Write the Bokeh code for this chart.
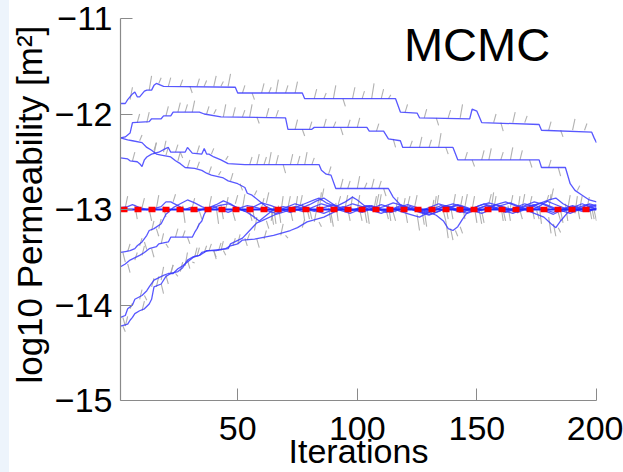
import numpy as np
from bokeh.plotting import figure
from bokeh.models import FixedTicker, Label, Range1d
from bokeh.embed import file_html
from bokeh.resources import INLINE

# ---------------- data ----------------
x_ticks = [50, 100, 150, 200]
y_ticks = [-15, -14, -13, -12, -11]
y_tick_labels = ["\u221215", "\u221214", "\u221213", "\u221212", "\u221211"]
true_value = -13.0

# chain A (top)
a_it = [1, 3, 4, 6, 7, 8, 9, 11, 12, 14, 15, 16, 19, 49, 50, 77, 78, 116, 118, 125, 126, 147, 148, 150, 152, 176, 177, 198, 199, 200]
a_v = [-11.89, -11.89, -11.85, -11.79, -11.77, -11.82, -11.82, -11.76, -11.75, -11.75, -11.70, -11.68, -11.71, -11.72, -11.78, -11.78, -11.84, -11.84, -11.98, -11.99, -12.04, -12.05, -11.95, -11.97, -12.09, -12.11, -12.17, -12.19, -12.25, -12.30]

# chain B
b_it = [1, 3, 5, 6, 13, 14, 18, 19, 22, 23, 34, 36, 43, 70, 71, 81, 82, 104, 105, 111, 113, 118, 119, 140, 142, 176, 177, 187, 189, 191, 194, 197, 200]
b_v = [-12.25, -12.24, -12.20, -12.09, -12.08, -12.05, -12.05, -12.02, -12.02, -11.98, -11.98, -12.00, -12.03, -12.04, -12.16, -12.16, -12.14, -12.14, -12.18, -12.18, -12.26, -12.28, -12.35, -12.35, -12.48, -12.48, -12.56, -12.56, -12.73, -12.80, -12.85, -12.90, -12.92]

# chain C
c_it = [1, 4, 6, 10, 12, 14, 16, 18, 22, 24, 26, 28, 32, 35, 37, 39, 44, 46, 50, 53, 54, 56, 59, 62,
        66, 70, 74, 78, 82, 86, 90, 94, 98, 102, 106, 110, 114, 118, 122, 126, 129, 133, 137, 141, 145, 149, 153, 157, 161, 165, 169, 173, 177, 181, 185, 189, 193, 197, 200]
c_v = [-12.25, -12.27, -12.28, -12.30, -12.35, -12.38, -12.42, -12.43, -12.45, -12.49, -12.52, -12.56, -12.57, -12.59, -12.62, -12.64, -12.67, -12.70, -12.73, -12.77, -12.83, -12.85, -12.91, -12.97,
       -13.02, -12.98, -12.94, -12.97, -13.01, -13.04, -13.00, -12.97, -13.00, -13.03, -12.99, -12.95, -12.98, -13.02, -13.05, -13.08, -13.04, -13.00, -12.96, -12.99, -13.02, -12.98, -12.94, -12.97, -13.01, -13.04, -13.00, -12.96, -12.93, -12.97, -13.01, -13.04, -13.00, -12.97, -12.99]

# chain D
d_it = [1, 4, 5, 8, 9, 10, 11, 12, 14, 17, 20, 21, 22, 28, 29, 31, 35, 36, 37, 38, 40, 43, 46, 53, 84, 85, 87, 89, 91, 113, 115, 118,
        122, 126, 130, 134, 138, 142, 146, 150, 154, 158, 162, 166, 170, 174, 178, 182, 186, 190, 194, 197, 200]
d_v = [-12.46, -12.47, -12.49, -12.50, -12.52, -12.55, -12.48, -12.45, -12.42, -12.40, -12.36, -12.35, -12.40, -12.40, -12.35, -12.41, -12.42, -12.36, -12.42, -12.42, -12.45, -12.48, -12.52, -12.53, -12.53, -12.59, -12.63, -12.64, -12.78, -12.78, -12.87, -12.95,
       -12.99, -13.02, -12.98, -12.94, -12.97, -13.01, -13.04, -13.00, -12.96, -12.99, -13.03, -13.00, -12.96, -12.92, -12.95, -12.99, -13.02, -12.98, -12.94, -12.97, -13.00]

# chain E (starts near the true value)
e_it = [1, 4, 6, 9, 12, 15, 18, 20, 22, 25, 28, 30, 33, 36, 40, 43, 46, 50, 54, 58, 62, 66, 70, 74, 78, 82, 86, 90, 94, 98, 102, 106, 110, 114, 118, 122, 126, 130, 134, 138, 142, 146, 150, 154, 158, 162, 166, 170, 174, 178, 182, 186, 190, 194, 197, 200]
e_v = [-12.98, -12.97, -12.95, -12.98, -13.00, -12.99, -12.97, -12.92, -12.92, -12.96, -13.00, -12.98, -13.02, -12.99, -12.97, -13.00, -13.03, -12.99, -12.96, -12.98, -13.01, -13.04, -13.00, -12.97, -12.99, -13.02, -12.98, -12.95, -12.99, -13.01, -12.98, -12.96, -13.00, -13.03, -13.00, -12.97, -13.01, -13.05, -13.02, -12.98, -12.96, -13.00, -13.02, -12.99, -12.95, -12.98, -13.01, -12.97, -12.95, -13.00, -13.03, -12.99, -12.96, -12.99, -13.01, -12.99]

# chain F
f_it = [1, 3, 5, 7, 8, 10, 12, 13, 15, 18, 19, 20, 21, 23,
        26, 29, 32, 35, 38, 42, 46, 50, 54, 57, 59, 62, 65, 69, 73, 77, 81, 85, 89, 93, 97, 101, 105, 109, 113, 117, 121, 125, 129, 133, 136, 138, 140, 142, 144, 146, 150, 154, 158, 162, 166, 170, 174, 178, 182, 186, 190, 194, 197, 200]
f_v = [-13.45, -13.44, -13.43, -13.41, -13.38, -13.34, -13.27, -13.22, -13.20, -13.15, -13.10, -13.05, -13.03, -12.98,
       -12.94, -12.90, -12.93, -12.97, -13.00, -12.96, -12.94, -12.98, -13.03, -13.08, -13.12, -13.06, -13.00, -12.97, -12.99, -13.02, -12.98, -12.94, -12.97, -13.01, -13.04, -13.00, -12.96, -12.99, -13.02, -12.98, -12.95, -12.98, -13.02, -13.06, -13.12, -13.20, -13.22, -13.18, -13.10, -13.03, -12.99, -12.96, -12.99, -13.02, -12.98, -12.94, -12.97, -13.01, -13.05, -13.00, -12.97, -13.00, -13.02, -12.98]

# chain G
g_it = [1, 3, 5, 9, 11, 13, 16, 17, 21, 22, 26, 31, 32, 33, 34, 35, 36, 37, 38,
        41, 44, 47, 50, 53, 56, 60, 64, 68, 72, 76, 80, 83, 86, 89, 92, 96, 100, 104, 108, 112, 116, 120, 124, 128, 132, 136, 140, 144, 148, 152, 156, 160, 164, 168, 172, 176, 180, 183, 186, 190, 194, 197, 200]
g_v = [-13.60, -13.57, -13.53, -13.48, -13.45, -13.41, -13.39, -13.36, -13.34, -13.29, -13.29, -13.29, -13.24, -13.20, -13.15, -13.12, -13.05, -13.01, -12.98,
       -12.95, -12.91, -12.94, -12.99, -13.02, -12.98, -12.93, -12.96, -13.00, -13.03, -12.99, -12.95, -12.91, -12.88, -12.93, -12.98, -13.02, -12.99, -12.96, -12.99, -13.03, -13.00, -12.97, -13.00, -13.04, -13.01, -12.97, -12.94, -12.97, -13.01, -13.04, -13.00, -12.96, -12.93, -12.97, -13.01, -12.97, -12.90, -12.88, -12.94, -12.99, -13.02, -12.98, -12.95]

# chain H
h_it = [1, 3, 4, 6, 7, 10, 12, 13, 15, 19, 21, 23, 25, 27, 29, 32, 34, 36, 37, 41, 45, 47, 50, 52, 57, 65, 72, 75, 79, 86, 90,
        94, 98, 102, 106, 110, 114, 118, 122, 126, 130, 134, 138, 142, 146, 150, 154, 158, 162, 166, 170, 174, 178, 181, 183, 185, 188, 192, 196, 200]
h_v = [-14.13, -14.11, -14.04, -14.00, -13.94, -13.90, -13.85, -13.81, -13.74, -13.69, -13.67, -13.67, -13.62, -13.59, -13.55, -13.49, -13.48, -13.45, -13.43, -13.43, -13.41, -13.38, -13.36, -13.32, -13.31, -13.27, -13.22, -13.19, -13.13, -13.08, -13.03,
       -12.98, -12.94, -12.97, -13.01, -13.04, -13.00, -12.96, -12.99, -13.03, -13.06, -13.02, -12.98, -12.95, -12.98, -13.02, -12.99, -12.95, -12.92, -12.96, -13.00, -13.04, -13.08, -13.15, -13.19, -13.12, -13.03, -12.98, -12.95, -12.97]

# chain I
i_it = [1, 4, 5, 6, 7, 9, 11, 13, 14, 15, 18, 20, 22, 25, 27, 28, 29, 31, 34, 35, 38, 46, 47, 52, 55, 58, 60, 66, 70,
        74, 78, 82, 84, 87, 91, 95, 98, 100, 103, 107, 111, 115, 119, 123, 127, 131, 135, 139, 143, 147, 151, 155, 159, 163, 167, 171, 175, 179, 182, 186, 190, 194, 197, 200]
i_v = [-14.22, -14.20, -14.16, -14.13, -14.09, -14.06, -14.04, -13.99, -13.94, -13.81, -13.78, -13.70, -13.67, -13.65, -13.61, -13.57, -13.53, -13.50, -13.48, -13.45, -13.43, -13.41, -13.36, -13.30, -13.22, -13.14, -13.12, -13.05, -13.02,
       -12.98, -12.94, -12.90, -12.88, -12.93, -12.97, -12.92, -12.87, -12.90, -12.96, -13.00, -12.97, -12.93, -12.96, -13.00, -13.03, -13.00, -12.96, -12.99, -13.03, -13.00, -12.96, -12.93, -12.96, -13.00, -13.03, -12.99, -12.95, -12.91, -12.94, -12.98, -13.02, -12.98, -12.94, -12.96]

# rejected proposals (grey): iteration, proposed value
a_sp_it = [5, 13, 17, 21, 26, 30, 33, 36, 40, 43, 46, 52, 56, 60, 63, 66, 70, 74, 82, 86, 90, 94, 98, 102, 106, 110, 113, 120, 128, 133, 138, 143, 157, 160, 165, 170, 180, 185, 190, 195]
a_sp_v = [-11.72, -11.60, -11.62, -11.62, -11.64, -11.78, -11.63, -11.65, -11.60, -11.66, -11.58, -11.70, -11.85, -11.68, -11.72, -11.64, -11.70, -11.66, -11.74, -11.78, -11.70, -11.92, -11.72, -11.76, -11.68, -11.74, -11.80, -11.90, -11.95, -12.12, -11.96, -11.90, -12.00, -12.18, -11.98, -12.02, -12.08, -12.24, -12.05, -12.10]
b_sp_it = [8, 12, 20, 25, 28, 31, 37, 40, 44, 48, 52, 55, 58, 62, 66, 74, 77, 80, 86, 90, 93, 96, 100, 108, 115, 122, 126, 130, 134, 137, 145, 148, 152, 155, 160, 164, 168, 172, 180, 184, 192]
b_sp_v = [-12.00, -11.98, -11.92, -11.88, -11.90, -11.86, -11.92, -11.95, -11.90, -11.93, -11.96, -11.90, -12.10, -11.94, -11.96, -12.06, -12.23, -12.08, -12.05, -12.08, -12.22, -12.06, -12.04, -12.10, -12.35, -12.28, -12.24, -12.27, -12.20, -12.42, -12.40, -12.55, -12.38, -12.36, -12.40, -12.35, -12.38, -12.56, -12.48, -12.65, -12.75]
c_sp_it = [9, 15, 20, 25, 29, 33, 38, 42, 47, 51, 57, 65, 71, 77, 83, 89, 95, 101, 107, 113, 119, 125, 131, 137, 143, 149, 155, 161, 167, 173, 179, 185, 191, 197]
c_sp_v = [-12.22, -12.30, -12.35, -12.40, -12.48, -12.50, -12.55, -12.60, -12.62, -12.80, -12.80, -13.15, -12.86, -13.12, -12.88, -13.18, -12.85, -13.12, -12.86, -13.12, -12.88, -13.22, -12.90, -13.10, -12.86, -13.14, -12.84, -13.12, -12.86, -13.10, -12.85, -13.14, -12.86, -13.10]
d_sp_it = [6, 15, 19, 24, 26, 33, 39, 45, 55, 58, 61, 63, 66, 69, 72, 75, 78, 81, 88, 93, 96, 100, 103, 106, 109, 111]
d_sp_v = [-12.40, -12.30, -12.28, -12.32, -12.46, -12.33, -12.36, -12.44, -12.45, -12.42, -12.45, -12.40, -12.43, -12.62, -12.42, -12.44, -12.40, -12.46, -12.55, -12.68, -12.70, -12.65, -12.72, -12.68, -12.70, -12.86]
e_sp_it = [3, 7, 10, 13, 16, 19, 23, 27, 31, 34, 38, 41, 45, 48, 52, 56, 60, 64, 68, 72, 76, 80, 84, 88, 92, 96, 100, 104, 108, 112, 116, 120, 124, 128, 132, 136, 140, 144, 148, 152, 156, 160, 164, 168, 172, 176, 180, 184, 188, 192, 196, 199]
e_sp_v = [-12.86, -13.10, -12.88, -13.12, -12.85, -13.08, -12.84, -13.14, -12.88, -13.10, -12.86, -13.15, -12.87, -13.12, -12.84, -13.10, -12.88, -13.16, -12.86, -13.12, -12.85, -13.10, -12.82, -13.14, -12.86, -13.12, -12.85, -13.15, -12.84, -13.10, -12.87, -13.14, -12.85, -13.18, -12.86, -13.12, -12.84, -13.10, -12.86, -13.14, -12.82, -13.12, -12.85, -13.10, -12.86, -13.15, -12.84, -13.12, -12.85, -13.10, -12.87, -13.12]
f_sp_it = [2, 4, 9, 11, 14, 16, 17, 137, 139, 141, 143]
f_sp_v = [-13.55, -13.36, -13.30, -13.42, -13.12, -13.28, -13.10, -13.30, -13.32, -13.28, -13.25]
g_sp_it = [4, 7, 10, 14, 18, 20, 24, 27, 29, 33, 43, 49, 55, 62, 67, 74, 79, 85, 91, 97, 103, 109, 115, 121, 127, 133, 139, 145, 151, 157, 163, 169, 175, 181, 187, 193, 198]
g_sp_v = [-13.66, -13.45, -13.38, -13.50, -13.25, -13.40, -13.20, -13.22, -13.36, -13.14, -13.10, -12.85, -13.12, -12.82, -13.14, -12.86, -13.10, -12.78, -13.12, -12.86, -13.14, -12.84, -13.12, -12.86, -13.16, -12.85, -13.10, -12.84, -13.15, -12.86, -13.12, -12.84, -13.10, -12.78, -13.12, -12.86, -13.10]
h_sp_it = [2, 5, 9, 11, 14, 18, 20, 22, 24, 28, 31, 33, 38, 40, 43, 48, 54, 58, 61, 68, 70, 77, 82, 84, 180, 182, 184]
h_sp_v = [-14.22, -13.98, -13.84, -13.95, -13.72, -13.60, -13.78, -13.58, -13.70, -13.45, -13.56, -13.40, -13.36, -13.50, -13.33, -13.30, -13.25, -13.40, -13.22, -13.15, -13.30, -13.10, -13.00, -13.18, -13.25, -13.28, -13.24]
i_sp_it = [2, 3, 10, 16, 18, 22, 26, 29, 32, 36, 40, 42, 44, 50, 53, 57, 62, 64]
i_sp_v = [-14.28, -14.12, -13.96, -13.70, -13.88, -13.58, -13.55, -13.62, -13.40, -13.38, -13.52, -13.35, -13.48, -13.26, -13.38, -13.08, -13.20, -12.98]

chains = [(a_it, a_v), (b_it, b_v), (c_it, c_v), (d_it, d_v), (e_it, e_v),
          (f_it, f_v), (g_it, g_v), (h_it, h_v), (i_it, i_v)]
spikes = [(a_sp_it, a_sp_v), (b_sp_it, b_sp_v), (c_sp_it, c_sp_v), (d_sp_it, d_sp_v), (e_sp_it, e_sp_v),
          (f_sp_it, f_sp_v), (g_sp_it, g_sp_v), (h_sp_it, h_sp_v), (i_sp_it, i_sp_v)]

# ---------------- figure ----------------
FONT = "Liberation Sans"
p = figure(width=623, height=472, output_backend="svg", toolbar_location=None,
           x_range=Range1d(1, 200), y_range=Range1d(-15, -11),
           min_border_left=120, min_border_right=27, min_border_top=18, min_border_bottom=72)
p.outline_line_color = None
p.xgrid.visible = False
p.ygrid.visible = False
p.background_fill_color = "white"
p.border_fill_color = None
p.styles = {"background": "linear-gradient(90deg, #edf4fc 0px, #edf4fc 9px, #ffffff 9px, #ffffff 100%)"}

# grey rejected proposals
x0s, y0s, x1s, y1s = [], [], [], []
for (cit, cv), (sit, sv) in zip(chains, spikes):
    cit_a = np.array(cit)
    for it, pv in zip(sit, sv):
        k = int(np.searchsorted(cit_a, it, side="right")) - 1
        base = cv[max(k, 0)]
        x0s.append(it)
        y0s.append(base)
        x1s.append(it + 1)
        y1s.append(pv)
p.segment(x0s, y0s, x1s, y1s, line_color="#a8a8a8", line_width=1.1, line_alpha=0.9)

# blue chains
for cit, cv in chains:
    p.line(cit, cv, line_color="#3b3bff", line_width=1.3, line_alpha=0.85)

# true value
p.line([1, 200], [true_value, true_value], line_color="#2424ff", line_width=2)
p.line([1, 200], [true_value, true_value], line_color="#ff0000", line_width=5.5, line_dash="7 7")

# title
p.add_layout(Label(x=119.5, y=-11.27, text="MCMC", text_font=FONT, text_font_size="47px",
                   text_color="black", text_align="left", text_baseline="alphabetic"))

# axes
for ax in (p.xaxis[0], p.yaxis[0]):
    ax.axis_line_color = "#8a8a8a"
    ax.axis_line_width = 1.2
    ax.major_tick_line_color = "#8a8a8a"
    ax.major_tick_in = 12
    ax.major_tick_out = 0
    ax.minor_tick_line_color = None
    ax.major_label_text_font = FONT
    ax.major_label_text_font_size = "34px"
    ax.major_label_text_color = "black"
    ax.axis_label_text_font = FONT
    ax.axis_label_text_font_size = "34px"
    ax.axis_label_text_font_style = "normal"
    ax.axis_label_text_color = "black"

p.xaxis.ticker = FixedTicker(ticks=x_ticks)
p.xaxis.axis_label = "Iterations"
p.xaxis.major_label_standoff = 16
p.xaxis.axis_label_standoff = -11

p.yaxis.ticker = FixedTicker(ticks=y_ticks)
p.yaxis.major_label_overrides = {t: s for t, s in zip(y_ticks, y_tick_labels)}
p.yaxis.axis_label = "\u00a0log10 Permeability [m\u00b2]"
p.yaxis.axis_label_text_font_size = "35px"
p.yaxis.major_label_standoff = 8
p.yaxis.axis_label_standoff = 3

open("out.html", "w").write(file_html(p, INLINE))
